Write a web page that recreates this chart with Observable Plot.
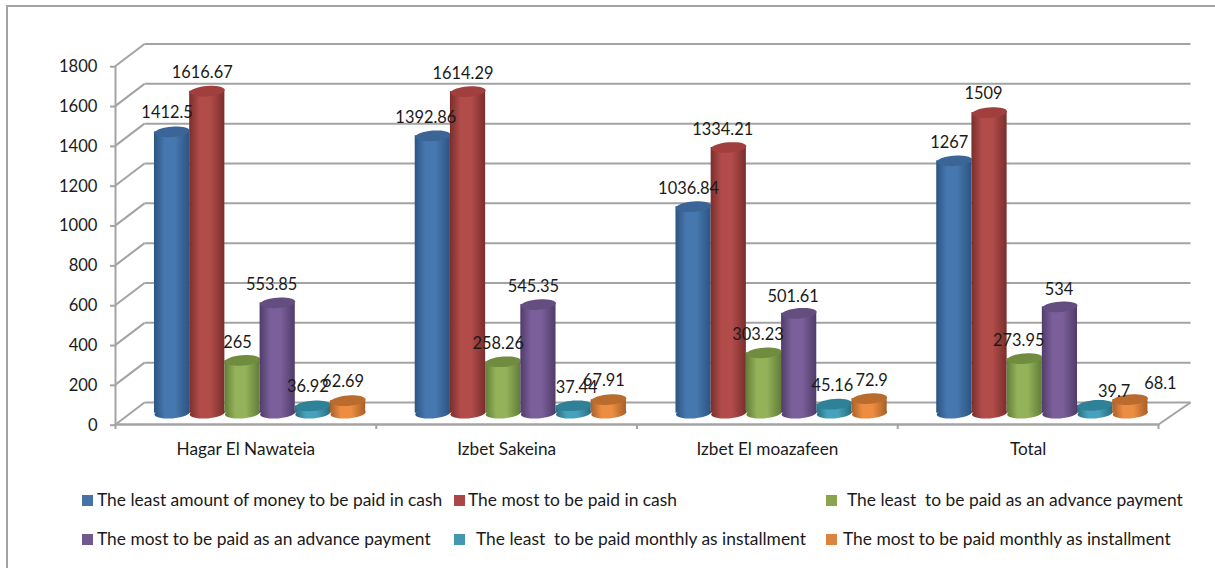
<!DOCTYPE html>
<html>
<head>
<meta charset="utf-8">
<script src="https://cdn.jsdelivr.net/npm/d3@7"></script>
<script src="https://cdn.jsdelivr.net/npm/@observablehq/plot@0.6"></script>
<style>
  html, body { margin: 0; padding: 0; background: #fff; width: 1215px; height: 568px; overflow: hidden; }
  body { position: relative; font-family: Lato, sans-serif; color: #1a1a1a; }
  #frame { position: absolute; left: 6px; top: 5px; right: -10px; bottom: -10px; border: 2px solid #a3a3a3; box-sizing: border-box; pointer-events: none; }
  #chart svg { display: block; background: transparent; }
  #legend { position: relative; height: 98px; font-size: 17.4px; }
  .item { position: absolute; white-space: pre; line-height: 20px; }
  .swatch { position: absolute; width: 11px; height: 11px; }
</style>
</head>
<body>
<div id="chart"></div>
<div id="legend"></div>
<div id="frame"></div>
<script>
const categories = ["Hagar El Nawateia", "Izbet Sakeina", "Izbet El moazafeen", "Total"];
const seriesNames = [
  "The least amount of money to be paid in cash",
  "The most to be paid in cash",
  "The least  to be paid as an advance payment",
  "The most to be paid as an advance payment",
  "The least  to be paid monthly as installment",
  "The most to be paid monthly as installment"
];
const leastCash    = [1412.5, 1392.86, 1036.84, 1267];
const mostCash     = [1616.67, 1614.29, 1334.21, 1509];
const leastAdvance = [265, 258.26, 303.23, 273.95];
const mostAdvance  = [553.85, 545.35, 501.61, 534];
const leastMonthly = [36.92, 37.44, 45.16, 39.7];
const mostMonthly  = [62.69, 67.91, 72.9, 68.1];
const seriesValues = [leastCash, mostCash, leastAdvance, mostAdvance, leastMonthly, mostMonthly];
const yTicks = d3.range(0, 1801, 200);
const xTicks = [0, 1, 2, 3, 4];

// colours per series: edge, middle, top cap, legend swatch
const edgeColors = ["#2c5482", "#7a2e2d", "#627d38", "#503c69", "#2a6d81", "#a76029"];
const midColors  = ["#4677ae", "#b14c4a", "#93b259", "#7a5f9a", "#46a2bc", "#ec8d41"];
const capColors  = ["#3a6596", "#a03f3d", "#708c3f", "#644e80", "#2f8198", "#b96c2d"];
const swatchColors = ["#4672a8", "#aa4644", "#89a54e", "#71588f", "#4198af", "#db843d"];

// label nudges in pixels, [series][category]
const labelDx = [
  [-5, -7, -5, -5], [-5, -5, -6, -6], [-5, -5, -6, -6],
  [-6, -5, -6, -1], [-5, 3, -2, 19], [-5, -5, 2, 30]
];
const labelDy = [
  [-19, -18, -18, -18], [-18, -18, -18, -19], [-18, -18, -18, -18],
  [-18, -18, -17, -17], [-19, -18, -18, -14], [-19, -19, -18, -16]
];

const width = 1215, height = 470;
const mL = 115, mR = 57, mT = 65.5, mB = 46;
const pxPerCat = (width - mL - mR) / 4;
const pxPerUnit = (height - mT - mB) / 1800;
const px2x = p => p / pxPerCat;
const px2y = p => p / pxPerUnit;
const gridColor = "#a3a3a3";
const barW = px2x(35.2);
const depthY = px2y(22);
const backL = px2x(29), backR = 4 + px2x(32);
const shiftX = 14.2, shiftY = -11.3;

// tilted flat ellipse for cylinder caps: r gives the half width
const tilt = -5 * Math.PI / 180;
const ellipseSymbol = {
  draw(ctx, size) {
    const rx = Math.sqrt(size / Math.PI), ry = 5.2;
    for (let k = 0; k < 36; ++k) {
      const t = k / 36 * 2 * Math.PI;
      const a = rx * Math.cos(t), b = ry * Math.sin(t);
      const X = a * Math.cos(tilt) - b * Math.sin(tilt);
      const Y = a * Math.sin(tilt) * 0.9 + b * Math.cos(tilt);
      if (k === 0) ctx.moveTo(X, Y); else ctx.lineTo(X, Y);
    }
    ctx.closePath();
  }
};

const defsMark = () => {
  const ns = "http://www.w3.org/2000/svg";
  const defs = document.createElementNS(ns, "defs");
  edgeColors.forEach((edge, j) => {
    const g = document.createElementNS(ns, "linearGradient");
    g.setAttribute("id", "g" + j);
    [[0, edge], [0.3, midColors[j]], [0.6, midColors[j]], [1, edge]].forEach(([o, c]) => {
      const s = document.createElementNS(ns, "stop");
      s.setAttribute("offset", o);
      s.setAttribute("stop-color", c);
      g.appendChild(s);
    });
    defs.appendChild(g);
  });
  return defs;
};

const rows = seriesValues.map((vals, j) => vals.map((v, i) => ({
  cat: categories[i], v, j, i,
  cx: i + 0.5 + (j - 2.5) * barW
})));

const gridMarks = [
  Plot.link(yTicks, {x1: 0, x2: backL, y1: d => d, y2: d => d + depthY, stroke: gridColor, strokeWidth: 2}),
  Plot.link(yTicks, {x1: backL, x2: backR, y1: d => d + depthY, y2: d => d + depthY, stroke: gridColor, strokeWidth: 2}),
  Plot.link([0], {x1: 4, x2: backR, y1: 0, y2: depthY, stroke: gridColor, strokeWidth: 2}),
  Plot.ruleX([0], {y1: 0, y2: 1800, stroke: gridColor, strokeWidth: 2}),
  Plot.ruleY([0], {x1: 0, x2: 4, stroke: gridColor, strokeWidth: 2.4}),
  Plot.axisY({ticks: yTicks, tickSize: 5, tickPadding: 13, tickFormat: d => String(d), label: null, fontSize: 16.6,
    stroke: gridColor, strokeWidth: 2, fill: "#1a1a1a", dy: 0.7}),
  Plot.axisX({ticks: xTicks, tickSize: 5, tickFormat: () => "", label: null, stroke: gridColor, strokeWidth: 2})
];

const barMarks = rows.flatMap((row, j) => {
  const base = {dx: shiftX, dy: shiftY};
  return [
    Plot.dot(row, {x: "cx", y: () => 0, r: 17.6, symbol: ellipseSymbol, fill: `url(#g${j})`, stroke: "none", ...base}),
    Plot.rect(row, {x1: d => d.cx - barW / 2, x2: d => d.cx + barW / 2, y1: () => 0, y2: "v", fill: `url(#g${j})`, ...base}),
    Plot.dot(row, {x: "cx", y: "v", r: 17.6, symbol: ellipseSymbol, fill: capColors[j], stroke: "none", ...base})
  ];
});

const labelMarks = rows.flat().map(d => Plot.text([d], {
  x: "cx", y: "v", text: e => String(e.v), fontSize: 16.4, fill: "#1a1a1a",
  dx: shiftX + labelDx[d.j][d.i], dy: shiftY + labelDy[d.j][d.i]
}));

const plot = Plot.plot({
  width, height,
  marginLeft: mL, marginRight: mR, marginTop: mT, marginBottom: mB,
  style: {fontFamily: "Lato, sans-serif", background: "transparent"},
  x: {type: "linear", domain: [0, 4], axis: null},
  y: {type: "linear", domain: [0, 1800], axis: null},
  marks: [
    defsMark,
    ...gridMarks,
    ...barMarks,
    ...labelMarks,
    Plot.text(categories, {x: (d, i) => i + 0.5, y: () => 0, text: d => d, dy: 25, fontSize: 17.2, fill: "#1a1a1a"})
  ]
});
document.getElementById("chart").appendChild(plot);

// legend below the SVG
const legendSwatchX = [[82, 454, 826], [82, 454, 826]];
const legendTextX = [[97, 468, 847], [97, 476, 843]];
const legendRowY = [25, 64];
const legend = document.getElementById("legend");
seriesNames.forEach((name, j) => {
  const r = Math.floor(j / 3), c = j % 3;
  const sw = document.createElement("div");
  sw.className = "swatch";
  sw.style.left = legendSwatchX[r][c] + "px";
  sw.style.top = legendRowY[r] + "px";
  sw.style.background = swatchColors[j];
  legend.appendChild(sw);
  const t = document.createElement("div");
  t.className = "item";
  t.style.left = legendTextX[r][c] + "px";
  t.style.top = (legendRowY[r] - 5) + "px";
  t.textContent = name;
  legend.appendChild(t);
});
</script>
</body>
</html>
